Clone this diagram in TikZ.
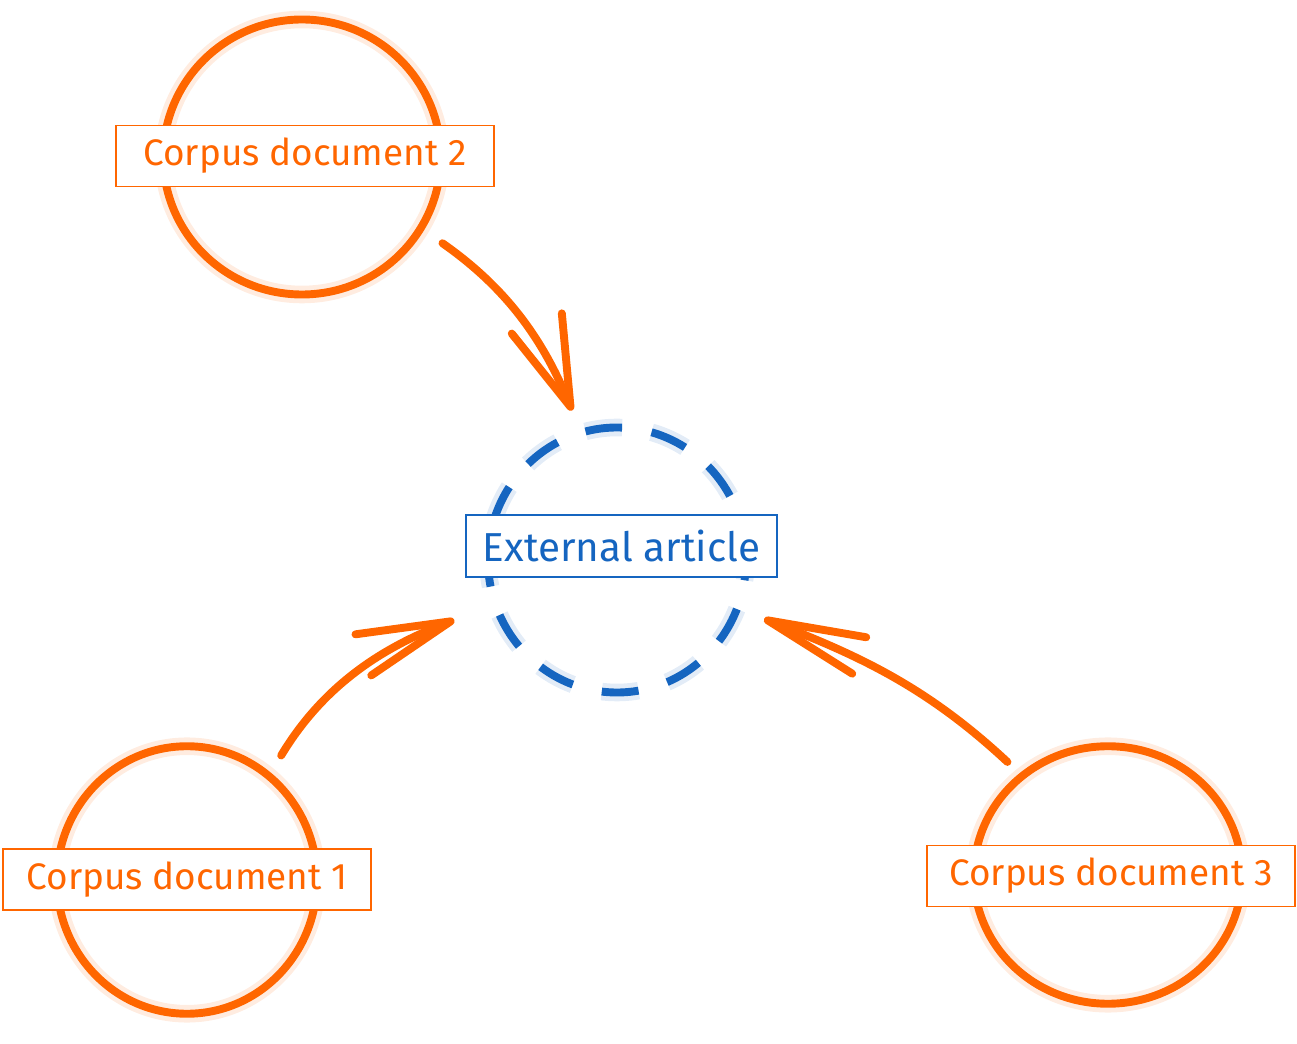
\documentclass[tikz,border=0pt]{standalone}
\usepackage{fontspec}
\setmainfont{Fira Sans}
\usepackage{tikz}
\usetikzlibrary{shapes,arrows.meta,positioning}
\definecolor{docorange}{RGB}{255,102,0}
\definecolor{extblue}{RGB}{21,101,192}

\begin{document}
\begin{tikzpicture}[
    glow/.style={preaction={draw=#1, line width=10pt, opacity=0.12}},
    doc/.style={ellipse, draw=docorange, line width=4.5pt, inner sep=0pt, glow=docorange},
    doclabel/.style={rectangle, draw=docorange, line width=1pt, fill=white, text=docorange, font=\fontsize{21}{25}\selectfont, minimum width=7.36cm, minimum height=1.22cm},
    ext/.style={ellipse, draw=extblue, line width=4.5pt, inner sep=0pt, dash pattern=on 21pt off 17pt, glow=extblue, minimum width=5.16cm, minimum height=5.3cm},
    extlabel/.style={rectangle, draw=extblue, line width=1pt, fill=white, text=extblue, font=\fontsize{23}{27}\selectfont, minimum width=6.22cm, minimum height=1.24cm},
    link/.style={draw=docorange, line width=4.5pt, line cap=round, line join=round}
]
\useasboundingbox (0,0) rectangle (25.94,20.86);

\node[doc, minimum width=5.55cm, minimum height=5.5cm] (doc2) at (6.04,17.72) {};
\node[doclabel, minimum width=7.56cm] (doc2label) at (6.10,17.74) {Corpus document 2};

\node[doc, minimum width=5.2cm, minimum height=5.35cm] (doc1) at (3.74,3.26) {};
\node[doclabel] (doc1label) at (3.74,3.27) {Corpus document 1};

\node[doc, minimum width=5.36cm, minimum height=5.15cm] (doc3) at (22.16,3.36) {};
\node[doclabel] (doc3label) at (22.22,3.34) {Corpus document 3};

\node[ext] (ext) at (12.34,9.66) {};
\node[extlabel] (extlabel) at (12.43,9.94) {External article};

\draw[link, -{Straight Barb[length=1.8cm, width=1.08cm, round]}, shorten <=0.45cm, shorten >=0.4cm]
    (doc2.-31) to[out=-35, in=112] (ext.106);
\draw[link, -{Straight Barb[length=1.87cm, width=0.88cm, round]}, shorten <=0.4cm, shorten >=0.8cm]
    (doc1.52) to[out=59, in=201] (ext.200);
\draw[link, -{Straight Barb[length=1.96cm, width=0.78cm, round]}, shorten <=0.33cm, shorten >=0.5cm]
    (doc3.131) to[out=137, in=-21] (ext.-22);

\end{tikzpicture}
\end{document}
